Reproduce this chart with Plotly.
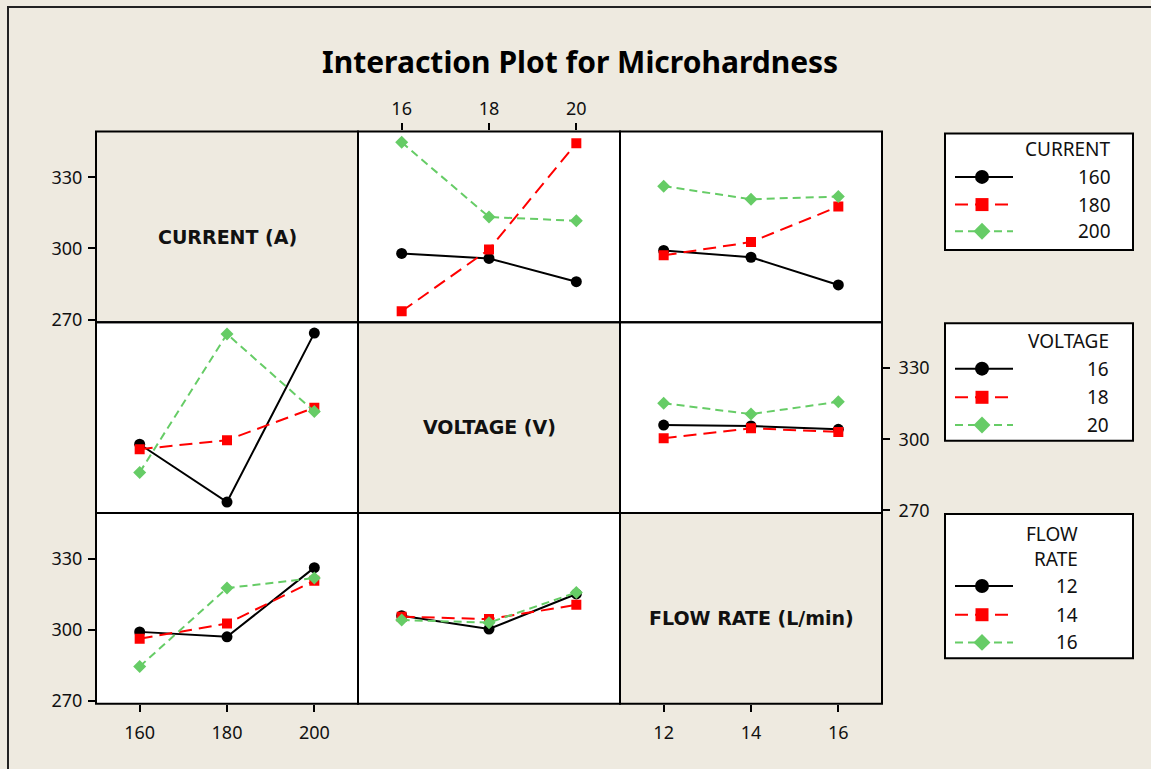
import plotly.graph_objects as go

# ---- factor definitions ----
factor_names = ["CURRENT", "VOLTAGE", "FLOW RATE"]
factor_labels = ["CURRENT (A)", "VOLTAGE (V)", "FLOW RATE (L/min)"]
current_levels = [160, 180, 200]
voltage_levels = [16, 18, 20]
flow_levels = [12, 14, 16]

# ---- mean microhardness for each pair of factor levels ----
# rows: CURRENT 160/180/200, columns: VOLTAGE 16/18/20
hv_current_voltage = [
    [297.9, 295.8, 286.0],
    [273.5, 299.6, 344.4],
    [344.8, 313.3, 311.7],
]
# rows: CURRENT 160/180/200, columns: FLOW RATE 12/14/16
hv_current_flow = [
    [299.2, 296.3, 284.6],
    [297.1, 302.7, 317.7],
    [326.3, 320.8, 321.9],
]
# rows: VOLTAGE 16/18/20, columns: FLOW RATE 12/14/16
hv_voltage_flow = [
    [306.0, 305.6, 304.2],
    [300.4, 304.6, 303.1],
    [315.2, 310.6, 315.8],
]

y_ticks = [270, 300, 330]

levels = [current_levels, voltage_levels, flow_levels]
pair_tables = {(0, 1): hv_current_voltage, (0, 2): hv_current_flow, (1, 2): hv_voltage_flow}


def cell_mean(f_trace, i, f_x, j):
    if (f_trace, f_x) in pair_tables:
        return pair_tables[(f_trace, f_x)][i][j]
    return pair_tables[(f_x, f_trace)][j][i]


# ---- page geometry (pixels) ----
W, H = 1151, 769
col_edges = [96, 358, 620, 882]
row_edges = [133, 326, 519, 712]
x_ranges = [[150, 210], [15, 21], [11, 17]]
y_range = [268.9, 349.4]

BG = "#EEEAE0"
GREEN = "#66CC66"
styles = [
    dict(color="black", dash="solid", symbol="circle", size=11),
    dict(color="#FF0000", dash="13px,7px", symbol="square", size=10),
    dict(color=GREEN, dash="8px,5px", symbol="diamond", size=10),
]
TICK_FONT = dict(family="Noto Sans, DejaVu Sans, sans-serif", size=18, color="#111111")


def px_x(v):
    return v / W


def px_y(v):
    return 1 - v / H


fig = go.Figure()
layout_axes = {}
shapes = []
annotations = []

# which outer edges carry tick labels, with label offset
x_tick_side = {(0, 1): ("top", 1), (2, 0): ("bottom", 6), (2, 2): ("bottom", 6)}
y_tick_side = {(0, 0): ("left", 2), (1, 2): ("right", 5), (2, 0): ("left", 2)}

for r in range(3):
    for c in range(3):
        k = r * 3 + c + 1
        sx = "" if k == 1 else str(k)
        x0, x1 = col_edges[c], col_edges[c + 1]
        y0, y1 = row_edges[r], row_edges[r + 1]

        xa = dict(
            domain=[px_x(x0), px_x(x1)], range=x_ranges[c], anchor="y" + sx,
            showline=False, showgrid=False, zeroline=False, tickvals=levels[c],
            tickfont=TICK_FONT, fixedrange=True,
        )
        if (r, c) in x_tick_side:
            side, off = x_tick_side[(r, c)]
            xa.update(side=side, ticks="outside", ticklen=7, ticklabelstandoff=off,
                      tickwidth=2, tickcolor="black", showticklabels=True)
        else:
            xa.update(ticks="", showticklabels=False)

        ya = dict(
            domain=[px_y(y1), px_y(y0)], range=y_range, anchor="x" + sx,
            showline=False, showgrid=False, zeroline=False, tickvals=y_ticks,
            tickfont=TICK_FONT, fixedrange=True,
        )
        if (r, c) in y_tick_side:
            side, off = y_tick_side[(r, c)]
            ya.update(side=side, ticks="outside", ticklen=7, ticklabelstandoff=off,
                      tickwidth=2, tickcolor="black", showticklabels=True)
        else:
            ya.update(ticks="", showticklabels=False)

        layout_axes["xaxis" + sx] = xa
        layout_axes["yaxis" + sx] = ya

        # panel frame
        shapes.append(dict(type="rect", xref="paper", yref="paper",
                           x0=px_x(x0), x1=px_x(x1), y0=px_y(y1), y1=px_y(y0),
                           fillcolor="rgba(0,0,0,0)", line=dict(color="black", width=2),
                           layer="above"))

        if r == c:
            # empty trace so the diagonal subplot (and its ticks) is rendered
            fig.add_trace(go.Scatter(x=[None], y=[None], xaxis="x" + sx, yaxis="y" + sx,
                                     mode="markers", showlegend=False, hoverinfo="skip"))
            annotations.append(dict(
                text="<b>%s</b>" % factor_labels[r], xref="paper", yref="paper",
                x=px_x((x0 + x1) / 2), y=px_y((y0 + y1) / 2 + 10),
                showarrow=False, xanchor="center", yanchor="middle",
                font=dict(family="DejaVu Sans, sans-serif", size=19, color="#111111"),
            ))
            continue

        shapes.append(dict(type="rect", xref="paper", yref="paper",
                           x0=px_x(x0), x1=px_x(x1), y0=px_y(y1), y1=px_y(y0),
                           fillcolor="white", line=dict(width=0), layer="below"))
        for i, st in enumerate(styles):
            ys = [cell_mean(r, i, c, j) for j in range(3)]
            fig.add_trace(go.Scatter(
                x=levels[c], y=ys, xaxis="x" + sx, yaxis="y" + sx,
                mode="lines+markers", showlegend=False, hoverinfo="skip",
                line=dict(color=st["color"], dash=st["dash"], width=2),
                marker=dict(symbol=st["symbol"], size=st["size"], color=st["color"],
                            line=dict(width=0)),
            ))

# ---- legend boxes drawn on a pixel-space overlay axis ----
legend_boxes = [
    dict(title=["CURRENT"], items=current_levels, left=945, right=1133, top=135, bottom=253,
         text_right=1113, title_y=[151], rows=[179, 207, 234]),
    dict(title=["VOLTAGE"], items=voltage_levels, left=945, right=1133, top=327, bottom=446,
         text_right=1111, title_y=[345], rows=[373, 402, 430]),
    dict(title=["FLOW", "RATE"], items=flow_levels, left=945, right=1133, top=520, bottom=666,
         text_right=1080, title_y=[540, 566], rows=[593, 622, 650]),
]
LEG = "30"
layout_axes["xaxis" + LEG] = dict(domain=[0, 1], range=[0, W], visible=False,
                                  anchor="y" + LEG, fixedrange=True)
layout_axes["yaxis" + LEG] = dict(domain=[0, 1], range=[H, 0], visible=False,
                                  anchor="x" + LEG, fixedrange=True)
LEG_FONT = dict(family="Noto Sans, DejaVu Sans, sans-serif", size=19, color="#111111")

for box in legend_boxes:
    shapes.append(dict(type="rect", xref="paper", yref="paper",
                       x0=px_x(box["left"]), x1=px_x(box["right"]),
                       y0=px_y(box["bottom"]), y1=px_y(box["top"]),
                       fillcolor="white", line=dict(color="black", width=2), layer="below"))
    for t, ty in zip(box["title"], box["title_y"]):
        annotations.append(dict(text=t, xref="paper", yref="paper",
                                x=px_x(box["text_right"]), y=px_y(ty),
                                xanchor="right", yanchor="middle", showarrow=False, font=LEG_FONT))
    for i, (lvl, ry) in enumerate(zip(box["items"], box["rows"])):
        st = styles[i]
        fig.add_trace(go.Scatter(
            x=[box["left"] + 10, box["left"] + 68], y=[ry, ry],
            xaxis="x" + LEG, yaxis="y" + LEG, mode="lines", showlegend=False,
            hoverinfo="skip", line=dict(color=st["color"], dash=st["dash"], width=2),
        ))
        fig.add_trace(go.Scatter(
            x=[box["left"] + 37], y=[ry], xaxis="x" + LEG, yaxis="y" + LEG,
            mode="markers", showlegend=False, hoverinfo="skip",
            marker=dict(symbol=st["symbol"], size=st["size"] + 3, color=st["color"],
                        line=dict(width=0)),
        ))
        annotations.append(dict(text=str(lvl), xref="paper", yref="paper",
                                x=px_x(box["text_right"]), y=px_y(ry),
                                xanchor="right", yanchor="middle", showarrow=False, font=LEG_FONT))

# ---- title and outer frame ----
annotations.append(dict(
    text="<b>Interaction Plot for Microhardness</b>", xref="paper", yref="paper",
    x=px_x(580), y=px_y(62), xanchor="center", yanchor="middle", showarrow=False,
    font=dict(family="Noto Sans, DejaVu Sans, sans-serif", size=30, color="black"),
))
shapes.append(dict(type="rect", xref="paper", yref="paper",
                   x0=px_x(8), x1=px_x(W + 20), y0=px_y(H + 20), y1=px_y(7),
                   line=dict(color="#222222", width=2), fillcolor="rgba(0,0,0,0)", layer="above"))

fig.update_layout(
    width=W, height=H, margin=dict(l=0, r=0, t=0, b=0),
    paper_bgcolor=BG, plot_bgcolor="rgba(0,0,0,0)",
    shapes=shapes, annotations=annotations, showlegend=False,
    **layout_axes,
)

fig.write_html("out.html", config={"displayModeBar": False})
